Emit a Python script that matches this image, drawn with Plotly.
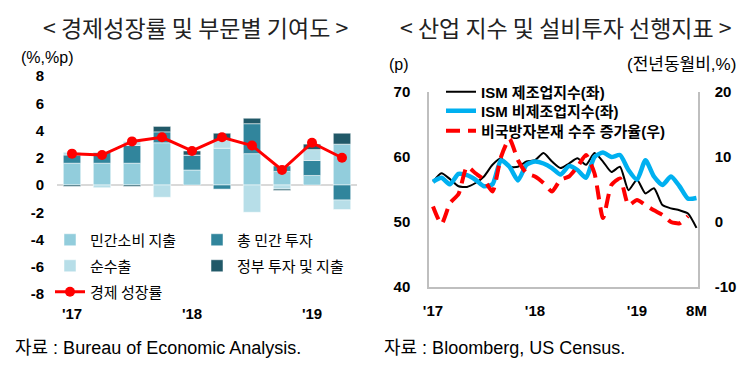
import plotly.graph_objects as go

# ---------------- Left chart data ----------------
quarters = ['2017Q1', '2017Q2', '2017Q3', '2017Q4', '2018Q1', '2018Q2',
            '2018Q3', '2018Q4', '2019Q1', '2019Q2']
consumption = [1.6, 1.6, 1.6, 3.1, 1.1, 2.7, 2.3, 1.0, 0.7, 3.0]
investment = [0.6, 0.8, 1.3, 0.8, 1.1, -0.3, 2.2, 0.4, 1.1, -1.1]
net_exports = [0.2, -0.2, 0.3, -0.9, 0.0, 0.6, -2.0, -0.3, 0.8, -0.7]
government = [-0.1, 0.0, -0.1, 0.4, 0.3, 0.5, 0.4, -0.1, 0.4, 0.8]
gdp_growth = [2.3, 2.2, 3.2, 3.5, 2.5, 3.5, 2.9, 1.1, 3.1, 2.0]
left_tick_vals = ['2017Q1', '2018Q1', '2019Q1']
left_tick_text = ["'17", "'18", "'19"]
left_y_vals = [-8, -6, -4, -2, 0, 2, 4, 6, 8]
left_y_text = ['-8', '-6', '-4', '-2', '0', '2', '4', '6', '8']

# ---------------- Right chart data ----------------
months = ['2017-01', '2017-02', '2017-03', '2017-04', '2017-05', '2017-06',
          '2017-07', '2017-08', '2017-09', '2017-10', '2017-11', '2017-12',
          '2018-01', '2018-02', '2018-03', '2018-04', '2018-05', '2018-06',
          '2018-07', '2018-08', '2018-09', '2018-10', '2018-11', '2018-12',
          '2019-01', '2019-02', '2019-03', '2019-04', '2019-05', '2019-06',
          '2019-07', '2019-08']
ism_mfg = [56.2, 57.5, 56.6, 55.5, 55.4, 56.0, 57.0, 58.8, 59.8, 58.5,
           58.5, 59.3, 59.5, 60.6, 59.3, 58.3, 59.0, 59.8, 58.8, 60.6,
           59.3, 57.7, 58.5, 54.9, 56.5, 54.4, 55.2, 52.6, 52.1, 51.8,
           51.3, 49.1]
ism_nonmfg = [56.2, 56.8, 55.8, 57.4, 57.2, 56.5, 55.5, 55.8, 59.5, 58.5,
              56.4, 58.8, 59.3, 59.0, 58.3, 57.3, 58.6, 58.0, 56.8, 60.0,
              60.7, 60.0, 60.3, 58.0, 56.5, 59.5, 57.0, 55.7, 57.0, 55.5,
              53.6, 53.7]
cap_orders = [2.4, -0.3, 2.9, 4.3, 8.5, 7.5, 6.5, 4.7, 10.0, 12.8, 9.5,
              7.5, 7.0, 6.0, 4.7, 6.5, 7.0, 8.5, 10.3, 7.5, 0.6, 5.7, 6.7,
              2.6, 3.4, 2.6, 1.8, 1.1, 0.0, -0.2, 0.9]
right_tick_vals = ['2017-01', '2018-01', '2019-01', '2019-08']
right_tick_text = ["'17", "'18", "'19", "8M"]
right_y1_vals = [40, 50, 60, 70]
right_y1_text = ['40', '50', '60', '70']
right_y2_vals = [-10, 0, 10, 20]
right_y2_text = ['-10', '0', '10', '20']

# The page body adds an 8px margin, so the figure is sized and placed to fit
# the 750x366 window exactly.
OFF = 8
W, H = 750 - OFF, 366 - OFF


def px(x):
    return (x - OFF) / W


def py(y):
    return 1 - (y - OFF) / H


KR = "Noto Sans CJK KR"
NUM = "Arial, Liberation Sans, Noto Sans CJK KR"

fig = go.Figure()

bar_specs = [
    (consumption, '민간소비 지출', '#92CDDC', 'legend'),
    (investment, '총 민간 투자', '#31859C', 'legend2'),
    (net_exports, '순수출', '#B7DEE8', 'legend3'),
    (government, '정부 투자 및 지출', '#215968', 'legend4'),
]
for vals, name, color, lg in bar_specs:
    fig.add_trace(go.Bar(
        x=quarters, y=vals, name=name,
        marker=dict(color=color, line=dict(color='white', width=0.5)),
        xaxis='x', yaxis='y', legend=lg))

fig.add_trace(go.Scatter(
    x=quarters, y=gdp_growth, name='경제 성장률', mode='lines+markers',
    line=dict(color='#FF0000', width=3), marker=dict(color='#FF0000', size=10),
    xaxis='x', yaxis='y', legend='legend5'))

fig.add_trace(go.Scatter(
    x=months, y=ism_mfg, name='ISM 제조업지수(좌)', mode='lines',
    line=dict(color='black', width=2, shape='spline', smoothing=0.6),
    xaxis='x2', yaxis='y2', legend='legend6'))
fig.add_trace(go.Scatter(
    x=months, y=ism_nonmfg, name='ISM 비제조업지수(좌)', mode='lines',
    line=dict(color='#00B0F0', width=4.5, shape='spline', smoothing=0.6),
    xaxis='x2', yaxis='y2', legend='legend7'))
fig.add_trace(go.Scatter(
    x=months[:len(cap_orders)], y=cap_orders, name='비국방자본재 수주 증가율(우)', mode='lines',
    line=dict(color='#FF0000', width=4, dash='14px,8px', shape='spline', smoothing=0.6),
    xaxis='x2', yaxis='y3', legend='legend8'))

tickfont = dict(family=NUM, size=15, color='black', weight='bold')
lgfont = dict(family=KR, size=15, color='black')
rlgfont = dict(family=NUM, size=15, color='black', weight='bold')


def lg(x, y, font):
    return dict(x=px(x), y=py(y), xanchor='left', yanchor='middle',
                font=font, bgcolor='rgba(0,0,0,0)')


fig.update_layout(
    width=W, height=H, margin=dict(l=0, r=0, t=0, b=0, autoexpand=False),
    paper_bgcolor='white', plot_bgcolor='white',
    barmode='relative', bargap=0.42,
    xaxis=dict(domain=[px(57), px(357)], type='category', range=[-0.5, 9.5],
               tickmode='array', tickvals=left_tick_vals, ticktext=left_tick_text,
               showline=False, showgrid=False, ticks='', tickfont=tickfont,
               ticklabelstandoff=9, fixedrange=True, automargin=False),
    yaxis=dict(domain=[py(294), py(76)], range=[-8, 8], tickmode='array',
               tickvals=left_y_vals, ticktext=left_y_text, showgrid=False,
               zeroline=True, zerolinecolor='#D9D9D9', zerolinewidth=2,
               showline=False, ticks='', tickfont=tickfont, ticklabelstandoff=12,
               automargin=False),
    xaxis2=dict(domain=[px(429), px(698)], type='category', range=[-0.47, 31.18],
                tickmode='array', tickvals=right_tick_vals, ticktext=right_tick_text,
                showline=True, linecolor='#BFBFBF', linewidth=1.5, showgrid=False,
                ticks='', tickfont=tickfont, ticklabelstandoff=9, anchor='y2',
                automargin=False),
    yaxis2=dict(domain=[py(287), py(92)], range=[40, 70], tickmode='array',
                tickvals=right_y1_vals, ticktext=right_y1_text, showgrid=False,
                zeroline=False, showline=True, linecolor='#BFBFBF', linewidth=1.5,
                ticks='', tickfont=tickfont, ticklabelstandoff=14, anchor='x2',
                automargin=False),
    yaxis3=dict(overlaying='y2', side='right', range=[-10, 20], tickmode='array',
                tickvals=right_y2_vals, ticktext=right_y2_text, showgrid=False,
                zeroline=False, showline=True, linecolor='#BFBFBF', linewidth=1.5,
                ticks='', tickfont=tickfont, ticklabelstandoff=12, anchor='x2',
                automargin=False),
    legend=lg(50, 240, lgfont),
    legend2=lg(197, 240, lgfont),
    legend3=lg(50, 266, lgfont),
    legend4=lg(197, 266, lgfont),
    legend5=lg(50, 292, lgfont),
    legend6=lg(441, 92, rlgfont),
    legend7=lg(441, 111, rlgfont),
    legend8=lg(441, 131, rlgfont),
    showlegend=True,
)

title_font = dict(family=KR, size=23, color='#222222')
ann = [
    dict(text='< 경제성장률 및 부문별 기여도 >', x=px(195), y=1, font=title_font,
         xanchor='center', yanchor='top'),
    dict(text='< 산업 지수 및 설비투자 선행지표 >', x=px(566), y=1, font=title_font,
         xanchor='center', yanchor='top'),
    dict(text='(%,%p)', x=px(19), y=py(57), xanchor='left', yanchor='middle',
         font=dict(family=NUM, size=16, color='black')),
    dict(text='(p)', x=px(387), y=py(65), xanchor='left', yanchor='middle',
         font=dict(family=NUM, size=16, color='black')),
    dict(text='(전년동월비,%)', x=px(738), y=py(65), xanchor='right', yanchor='middle',
         font=dict(family=NUM, size=17, color='black')),
    dict(text='자료 : Bureau of Economic Analysis.', x=px(13), y=py(348), xanchor='left',
         yanchor='middle', font=dict(family=NUM, size=18, color='black')),
    dict(text='자료 : Bloomberg, US Census.', x=px(382), y=py(348), xanchor='left',
         yanchor='middle', font=dict(family=NUM, size=18, color='black')),
]
for a in ann:
    a.update(xref='paper', yref='paper', showarrow=False)
fig.update_layout(annotations=ann)

fig.write_html('out.html')
